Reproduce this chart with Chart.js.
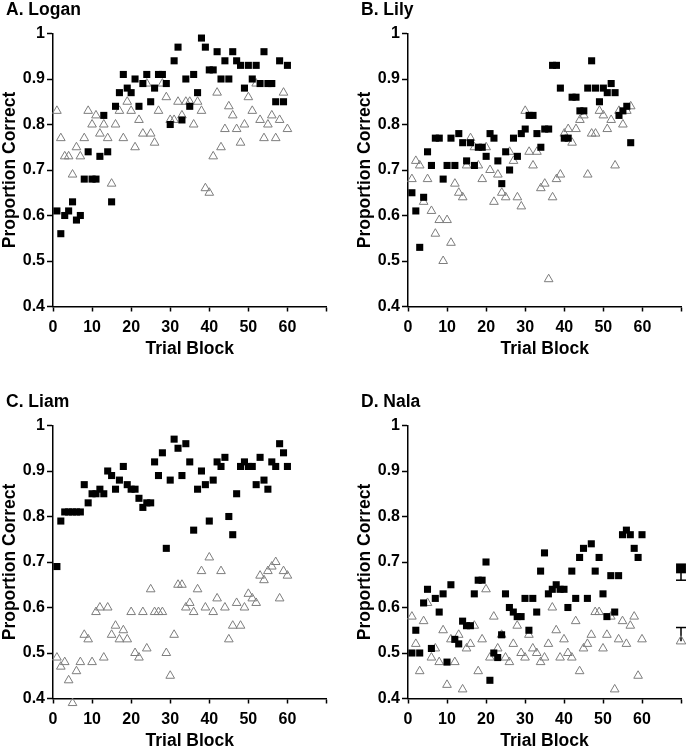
<!DOCTYPE html>
<html>
<head>
<meta charset="utf-8">
<script src="https://cdn.jsdelivr.net/npm/chart.js@4.4.0/dist/chart.umd.min.js"></script>
<style>
  html, body { margin: 0; padding: 0; background: #fff; overflow: hidden; }
  .panel { position: absolute; width: 333px; height: 358px; }
</style>
</head>
<body>
<div class="panel" style="left:0;top:0"><canvas id="chartA" width="333" height="358"></canvas></div>
<div class="panel" style="left:355px;top:0"><canvas id="chartB" width="333" height="358"></canvas></div>
<div class="panel" style="left:0;top:392px"><canvas id="chartC" width="333" height="358"></canvas></div>
<div class="panel" style="left:355px;top:392px"><canvas id="chartD" width="333" height="358"></canvas></div>
<script>
// Proportion correct per trial block (block number = position + 1)
// filled squares
const loganSquares = [
  0.61, 0.56, 0.60, 0.61, 0.63, 0.59, 0.60, 0.68, 0.74, 0.68,
  0.68, 0.73, 0.82, 0.74, 0.63, 0.84, 0.87, 0.91, 0.88, 0.87,
  0.90, 0.84, 0.89, 0.91, 0.85, 0.88, 0.91, 0.91, 0.89, 0.80,
  0.94, 0.97, 0.81, 0.90, 0.84, 0.91, 0.87, 0.99, 0.97, 0.92,
  0.92, 0.96, 0.90, 0.94, 0.90, 0.96, 0.94, 0.93, 0.88, 0.93,
  0.90, 0.93, 0.89, 0.96, 0.89, 0.89, 0.85, 0.94, 0.85, 0.93,
];
// open triangles
const loganTriangles = [
  0.83, 0.77, 0.73, 0.73, 0.69, 0.75, 0.73, 0.77, 0.83, 0.80,
  0.82, 0.78, 0.80, 0.77, 0.67, 0.80, 0.83, 0.77, 0.85, 0.83,
  0.75, 0.81, 0.78, 0.89, 0.78, 0.76, 0.83, 0.89, 0.86, 0.81,
  0.81, 0.85, 0.82, 0.85, 0.85, 0.80, 0.85, 0.83, 0.66, 0.65,
  0.73, 0.87, 0.75, 0.79, 0.84, 0.82, 0.79, 0.76, 0.80, 0.86,
  0.83, 0.89, 0.81, 0.77, 0.80, 0.82, 0.77, 0.81, 0.87, 0.79,
];

const lilySquares = [
  0.65, 0.61, 0.53, 0.64, 0.74, 0.71, 0.77, 0.77, 0.68, 0.71,
  0.77, 0.71, 0.78, 0.76, 0.72, 0.76, 0.71, 0.75, 0.75, 0.73,
  0.78, 0.77, 0.72, 0.67, 0.74, 0.70, 0.77, 0.73, 0.78, 0.79,
  0.82, 0.82, 0.78, 0.75, 0.79, 0.79, 0.93, 0.93, 0.88, 0.77,
  0.77, 0.86, 0.86, 0.83, 0.83, 0.88, 0.94, 0.88, 0.85, 0.88,
  0.87, 0.89, 0.87, 0.82, 0.83, 0.84, 0.76,
];
const lilyTriangles = [
  0.68, 0.72, 0.71, 0.63, 0.68, 0.61, 0.56, 0.59, 0.50, 0.59,
  0.54, 0.67, 0.65, 0.64, 0.71, 0.77, 0.75, 0.71, 0.68, 0.75,
  0.70, 0.63, 0.69, 0.65, 0.64, 0.74, 0.72, 0.64, 0.62, 0.83,
  0.74, 0.71, 0.74, 0.66, 0.67, 0.46, 0.64, 0.68, 0.69, 0.78,
  0.79, 0.76, 0.79, 0.81, 0.82, 0.69, 0.78, 0.78, 0.83, 0.82,
  0.79, 0.81, 0.71, 0.83, 0.80, 0.83, 0.84,
];

const liamSquares = [
  0.69, 0.79, 0.81, 0.81, 0.81, 0.81, 0.81, 0.87, 0.83, 0.85,
  0.85, 0.86, 0.85, 0.90, 0.89, 0.86, 0.88, 0.91, 0.87, 0.86,
  0.86, 0.84, 0.82, 0.83, 0.83, 0.92, 0.89, 0.94, 0.73, 0.88,
  0.97, 0.95, 0.89, 0.96, 0.92, 0.77, 0.86, 0.90, 0.87, 0.79,
  0.88, 0.92, 0.91, 0.93, 0.80, 0.76, 0.85, 0.91, 0.92, 0.91,
  0.91, 0.87, 0.93, 0.88, 0.86, 0.92, 0.91, 0.96, 0.94, 0.91,
];
const liamTriangles = [
  0.49, 0.47, 0.48, 0.44, 0.39, 0.46, 0.48, 0.54, 0.53, 0.48,
  0.59, 0.60, 0.49, 0.60, 0.54, 0.56, 0.53, 0.55, 0.53, 0.59,
  0.50, 0.49, 0.59, 0.51, 0.64, 0.59, 0.59, 0.59, 0.50, 0.45,
  0.54, 0.65, 0.65, 0.60, 0.61, 0.59, 0.64, 0.68, 0.60, 0.71,
  0.59, 0.62, 0.68, 0.60, 0.53, 0.56, 0.61, 0.56, 0.60, 0.63,
  0.62, 0.61, 0.67, 0.66, 0.68, 0.69, 0.70, 0.62, 0.68, 0.67,
];

const nalaSquares = [
  0.50, 0.55, 0.50, 0.61, 0.64, 0.51, 0.62, 0.59, 0.63, 0.48,
  0.65, 0.53, 0.52, 0.57, 0.56, 0.56, 0.63, 0.66, 0.66, 0.70,
  0.44, 0.50, 0.49, 0.54, 0.63, 0.60, 0.59, 0.58, 0.58, 0.62,
  0.55, 0.62, 0.59, 0.68, 0.72, 0.63, 0.64, 0.65, 0.64, 0.64,
  0.60, 0.68, 0.62, 0.71, 0.73, 0.62, 0.74, 0.68, 0.71, 0.63,
  0.58, 0.67, 0.59, 0.67, 0.76, 0.77, 0.76, 0.73, 0.71, 0.76,
];
const nalaTriangles = [
  0.58, 0.52, 0.46, 0.57, 0.61, 0.49, 0.51, 0.48, 0.55, 0.43,
  0.53, 0.48, 0.54, 0.42, 0.51, 0.52, 0.56, 0.46, 0.53, 0.64,
  0.49, 0.58, 0.51, 0.54, 0.49, 0.48, 0.52, 0.56, 0.50, 0.49,
  0.54, 0.51, 0.50, 0.48, 0.49, 0.52, 0.60, 0.55, 0.49, 0.53,
  0.50, 0.49, 0.57, 0.46, 0.51, 0.52, 0.54, 0.59, 0.59, 0.51,
  0.54, 0.58, 0.42, 0.53, 0.57, 0.52, 0.56, 0.58, 0.45, 0.53,
];

// Nala's mean (plotted at block 70) with one-sided error bars
const meanBlock = 70;
const nalaMeanSquare = 0.686;
const nalaErrSquare = 0.026;
const nalaMeanTriangle = 0.526;
const nalaErrTriangle = 0.03;

const yTicks = [0.4, 0.5, 0.6, 0.7, 0.8, 0.9, 1];

Chart.defaults.font.family = "'Liberation Sans', Arial, sans-serif";
Chart.defaults.color = "#000";

function toPoints(values) {
  return values.map((v, i) => ({ x: i + 1, y: v }));
}

function squareSet(points, radius) {
  return {
    data: points,
    pointStyle: "rect",
    pointRadius: radius,
    backgroundColor: "#000",
    borderColor: "#000",
    borderWidth: 0,
    clip: false,
  };
}

function triangleSet(points, radius) {
  return {
    data: points,
    pointStyle: "triangle",
    pointRadius: radius,
    backgroundColor: "rgba(255,255,255,0)",
    borderColor: "#7d7d7d",
    borderWidth: 1,
    clip: false,
  };
}

// vertical line from the mean to mean +/- err, with a cap at the end
function errorBar(mean, end) {
  return {
    data: [{ x: meanBlock, y: mean }, { x: meanBlock, y: end }],
    showLine: true,
    borderColor: "#000",
    borderWidth: 1.5,
    pointStyle: "line",
    pointRadius: [0, 5],
    pointBorderColor: "#000",
    pointBorderWidth: 1.5,
    clip: false,
  };
}

function makePanel(id, title, datasets) {
  new Chart(document.getElementById(id), {
    type: "scatter",
    data: { datasets: datasets },
    options: {
      responsive: false,
      animation: false,
      events: [],
      layout: { padding: { left: 6, right: 6.5, top: 0, bottom: 0 } },
      plugins: {
        legend: { display: false },
        tooltip: { enabled: false },
        title: {
          display: true,
          text: title,
          align: "start",
          color: "#000",
          font: { size: 17.5, weight: "bold" },
          padding: { top: 0, bottom: 12.5 },
        },
      },
      scales: {
        x: {
          type: "linear",
          min: 0,
          max: 70,
          afterFit: (scale) => { scale.height = 51.5; },
          border: { display: true, color: "#000", width: 1.5 },
          grid: { display: true, drawOnChartArea: false, drawTicks: true, tickLength: 5, tickColor: "#000", tickWidth: 1.5 },
          ticks: {
            stepSize: 10,
            padding: 6,
            maxRotation: 0,
            autoSkip: false,
            font: { size: 16, weight: "bold" },
            callback: (v) => (v === 70 ? "" : v), // no label on the last tick
          },
          title: {
            display: true,
            text: "Trial Block",
            font: { size: 17.5, weight: "bold", lineHeight: 1 },
            padding: 0,
          },
        },
        y: {
          min: 0.4,
          max: 1,
          afterFit: (scale) => { scale.width = 47; },
          border: { display: true, color: "#000", width: 1.5 },
          grid: { display: true, drawOnChartArea: false, drawTicks: true, tickLength: 6, tickColor: "#000", tickWidth: 1.5 },
          afterBuildTicks: (scale) => { scale.ticks = yTicks.map((v) => ({ value: v })); },
          ticks: {
            padding: 2,
            font: { size: 16, weight: "bold" },
            callback: (v) => (v === 1 ? "1" : v.toFixed(1)),
          },
          title: {
            display: true,
            text: "Proportion Correct",
            font: { size: 17.5, weight: "bold" },
            padding: { top: -6, bottom: 0 },
          },
        },
      },
    },
  });
}

makePanel("chartA", "A. Logan", [
  squareSet(toPoints(loganSquares), 5),
  triangleSet(toPoints(loganTriangles), 5),
]);
makePanel("chartB", "B. Lily", [
  squareSet(toPoints(lilySquares), 5),
  triangleSet(toPoints(lilyTriangles), 5),
]);
makePanel("chartC", "C. Liam", [
  squareSet(toPoints(liamSquares), 5),
  triangleSet(toPoints(liamTriangles), 5),
]);
makePanel("chartD", "D. Nala", [
  squareSet([{ x: meanBlock, y: nalaMeanSquare }], 7),
  triangleSet([{ x: meanBlock, y: nalaMeanTriangle }], 5.5),
  squareSet(toPoints(nalaSquares), 5),
  triangleSet(toPoints(nalaTriangles), 5),
  errorBar(nalaMeanSquare, nalaMeanSquare - nalaErrSquare),
  errorBar(nalaMeanTriangle, nalaMeanTriangle + nalaErrTriangle),
]);
</script>
</body>
</html>
